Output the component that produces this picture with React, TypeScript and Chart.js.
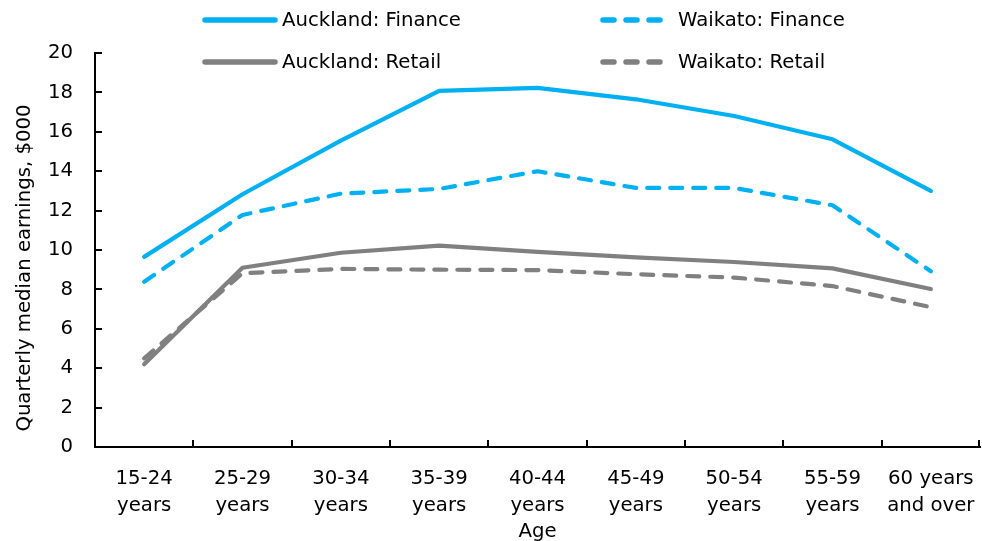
import { useEffect, useRef } from "react";
import { Chart, registerables } from "chart.js";

Chart.register(...registerables);

const categories: string[][] = [
  ["15-24", "years"],
  ["25-29", "years"],
  ["30-34", "years"],
  ["35-39", "years"],
  ["40-44", "years"],
  ["45-49", "years"],
  ["50-54", "years"],
  ["55-59", "years"],
  ["60 years", "and over"],
];
const aucklandFinance = [9.65, 12.83, 15.55, 18.08, 18.23, 17.65, 16.8, 15.62, 13.0];
const waikatoFinance = [8.39, 11.78, 12.86, 13.1, 14.0, 13.15, 13.15, 12.27, 8.92];
const aucklandRetail = [4.2, 9.1, 9.86, 10.22, 9.9, 9.63, 9.39, 9.07, 8.02];
const waikatoRetail = [4.5, 8.82, 9.04, 9.0, 8.98, 8.77, 8.6, 8.17, 7.1];
const yTickValues = [0, 2, 4, 6, 8, 10, 12, 14, 16, 18, 20];

const FONT = "'DejaVu Sans', sans-serif";
const FS = 19.7;
const BLUE = "#00B0F0";
const GREY = "#808080";

const overlayPlugin = {
  id: "overlay",
  afterDraw(chart: any) {
    const ctx = chart.ctx as CanvasRenderingContext2D;
    const area = chart.chartArea;
    const xs = chart.scales.x;
    const ys = chart.scales.y;
    ctx.save();
    // inward ticks
    ctx.strokeStyle = "#000";
    ctx.lineWidth = 2;
    ctx.beginPath();
    yTickValues.forEach((v) => {
      const py = Math.round(ys.getPixelForValue(v));
      ctx.moveTo(area.left, py);
      ctx.lineTo(area.left + 7, py);
    });
    const n = categories.length;
    for (let i = 1; i <= n; i++) {
      let px: number;
      if (i === n) px = area.right - 1;
      else px = (xs.getPixelForValue(i - 1) + xs.getPixelForValue(i)) / 2;
      px = Math.round(px);
      ctx.moveTo(px, area.bottom);
      ctx.lineTo(px, area.bottom - 7);
    }
    ctx.stroke();

    // y title
    ctx.fillStyle = "#000";
    ctx.font = `${FS}px ${FONT}`;
    ctx.textAlign = "center";
    ctx.textBaseline = "middle";
    ctx.translate(25, 268);
    ctx.rotate(-Math.PI / 2);
    ctx.fillText("Quarterly median earnings, $000", 0, 0);
    ctx.restore();

    // legend
    ctx.save();
    const items = [
      { ds: 0, x1: 205, x2: 275, tx: 282, y: 20 },
      { ds: 1, x1: 603, x2: 662, tx: 678, y: 20 },
      { ds: 2, x1: 205, x2: 275, tx: 282, y: 62 },
      { ds: 3, x1: 603, x2: 662, tx: 678, y: 62 },
    ];
    items.forEach((it) => {
      const d = chart.data.datasets[it.ds];
      ctx.strokeStyle = d.borderColor;
      ctx.lineWidth = 5.5;
      ctx.lineCap = "round";
      ctx.setLineDash(d.borderDash && d.borderDash.length ? [11, 12] : []);
      ctx.beginPath();
      ctx.moveTo(it.x1, it.y);
      ctx.lineTo(it.x2, it.y);
      ctx.stroke();
      ctx.setLineDash([]);
      ctx.fillStyle = "#000";
      ctx.font = `${FS}px ${FONT}`;
      ctx.textAlign = "left";
      ctx.textBaseline = "middle";
      ctx.fillText(d.label, it.tx, it.y + 1);
    });
    ctx.restore();
  },
};

export default function App() {
  const ref = useRef<HTMLCanvasElement>(null);
  useEffect(() => {
    document.body.style.margin = "0";
    const mk = (label: string, data: number[], color: string, dashed: boolean) => ({
      label,
      data,
      borderColor: color,
      backgroundColor: color,
      borderWidth: 4.2,
      borderDash: dashed ? [12, 11] : [],
      borderCapStyle: "round" as const,
      borderJoinStyle: "round" as const,
      pointRadius: 0,
      tension: 0,
      fill: false,
    });
    const chart = new Chart(ref.current!, {
      type: "line",
      data: {
        labels: categories,
        datasets: [
          mk("Auckland: Finance", aucklandFinance, BLUE, false),
          mk("Waikato: Finance", waikatoFinance, BLUE, true),
          mk("Auckland: Retail", aucklandRetail, GREY, false),
          mk("Waikato: Retail", waikatoRetail, GREY, true),
        ],
      },
      options: {
        responsive: false,
        animation: false,
        layout: { padding: { top: 53, right: 2, left: 0, bottom: 0 } },
        plugins: {
          legend: { display: false },
          tooltip: { enabled: false },
        },
        scales: {
          x: {
            type: "category",
            offset: true,
            grid: { display: false, drawTicks: false },
            border: { display: true, color: "#000", width: 2 },
            ticks: {
              color: "#000",
              font: { family: FONT, size: FS, lineHeight: 1.38 },
              padding: 18,
              maxRotation: 0,
              autoSkip: false,
            },
            title: {
              display: true,
              text: "Age",
              color: "#000",
              font: { family: FONT, size: FS },
              padding: { top: 0, bottom: -3 },
            },
            afterFit: (s: any) => {
              s.height = 94;
              s.paddingLeft = 0;
              s.paddingRight = 0;
            },
          },
          y: {
            min: 0,
            max: 20,
            afterBuildTicks: (s: any) => {
              s.ticks = yTickValues.map((v) => ({ value: v }));
            },
            grid: { display: false, drawTicks: false },
            border: { display: true, color: "#000", width: 2 },
            ticks: {
              color: "#000",
              font: { family: FONT, size: FS },
              padding: 22,
            },
            afterFit: (s: any) => {
              s.width = 95;
            },
          },
        },
      },
      plugins: [overlayPlugin],
    });
    return () => chart.destroy();
  }, []);
  return (
    <div style={{ width: 982, height: 541 }}>
      <canvas ref={ref} width={982} height={541} style={{ display: "block" }} />
    </div>
  );
}
